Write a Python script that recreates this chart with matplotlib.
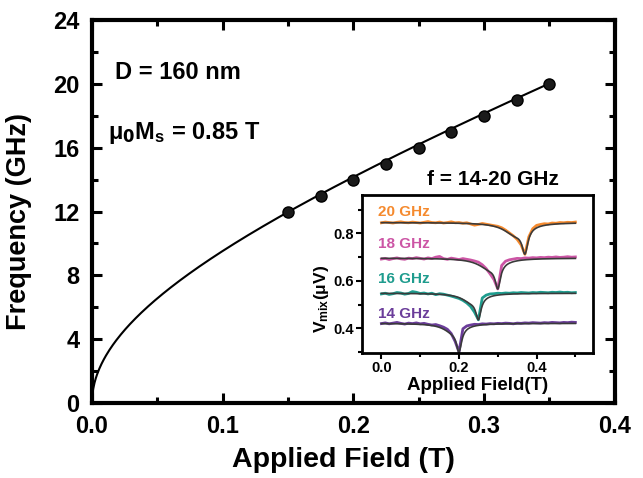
import numpy as np
import matplotlib.pyplot as plt
from matplotlib.ticker import MultipleLocator

plt.rcParams['font.family'] = ['Liberation Sans', 'DejaVu Sans']
plt.rcParams['font.weight'] = 'bold'
plt.rcParams['mathtext.default'] = 'regular'

# resonance frequency vs applied field
field = [0.15, 0.175, 0.2, 0.225, 0.25, 0.275, 0.3, 0.325, 0.35]
freq = [12, 13, 14, 15, 16, 17, 18, 19, 20]
mu0_ms = 0.85      # T
gamma = 30.9       # GHz/T, Kittel fit

# inset: mixing voltage spectra (0 to 0.5 T, 0.01 T steps)
h_inset = np.round(np.arange(0, 0.505, 0.01), 2)
v_20 = [0.845, 0.848, 0.846, 0.844, 0.847, 0.849, 0.846, 0.845, 0.848, 0.846,
        0.844, 0.847, 0.850, 0.846, 0.845, 0.848, 0.844, 0.846, 0.849, 0.845,
        0.846, 0.843, 0.845, 0.840, 0.835, 0.838, 0.842, 0.839, 0.836, 0.833,
        0.830, 0.824, 0.814, 0.802, 0.790, 0.775, 0.752, 0.712, 0.786, 0.820,
        0.834, 0.838, 0.841, 0.840, 0.844, 0.843, 0.846, 0.845, 0.847, 0.846, 0.848]
v_18 = [0.692, 0.695, 0.690, 0.694, 0.697, 0.693, 0.691, 0.696, 0.694, 0.698,
        0.695, 0.692, 0.697, 0.694, 0.700, 0.703, 0.694, 0.691, 0.696, 0.693,
        0.690, 0.694, 0.691, 0.688, 0.684, 0.679, 0.668, 0.652, 0.630, 0.606,
        0.566, 0.665, 0.683, 0.689, 0.692, 0.695, 0.694, 0.697, 0.696, 0.698,
        0.697, 0.699, 0.698, 0.700, 0.699, 0.701, 0.699, 0.700, 0.702, 0.700, 0.701]
v_16 = [0.545, 0.548, 0.543, 0.546, 0.551, 0.549, 0.544, 0.547, 0.555, 0.552,
        0.547, 0.549, 0.545, 0.548, 0.542, 0.546, 0.544, 0.540, 0.536, 0.531,
        0.526, 0.518, 0.507, 0.492, 0.468, 0.436, 0.528, 0.540, 0.545, 0.546,
        0.548, 0.547, 0.549, 0.548, 0.550, 0.549, 0.551, 0.550, 0.549, 0.551,
        0.550, 0.552, 0.551, 0.550, 0.552, 0.551, 0.553, 0.551, 0.552, 0.550, 0.551]
v_14 = [0.420, 0.423, 0.419, 0.422, 0.425, 0.421, 0.418, 0.422, 0.420, 0.423,
        0.419, 0.421, 0.417, 0.414, 0.416, 0.411, 0.405, 0.396, 0.378, 0.345,
        0.300, 0.398, 0.410, 0.414, 0.417, 0.416, 0.419, 0.418, 0.420, 0.419,
        0.421, 0.420, 0.422, 0.421, 0.419, 0.422, 0.421, 0.423, 0.422, 0.424,
        0.423, 0.422, 0.424, 0.423, 0.425, 0.424, 0.423, 0.425, 0.424, 0.426, 0.425]
spectra = [v_14, v_16, v_18, v_20]
labels = ['14 GHz', '16 GHz', '18 GHz', '20 GHz']
colors = ['#6b3d9a', '#1f9c8e', '#cc55a5', '#f58a2e']
label_y = [0.462, 0.608, 0.754, 0.89]

# lorentzian fit parameters: offset, sharp peak, broad shoulder
offset = [0.421, 0.548, 0.696, 0.846]
h_res = [0.20, 0.25, 0.30, 0.37]
depth_sharp = [0.093, 0.086, 0.096, 0.10]
width_sharp = [0.008, 0.008, 0.008, 0.009]
h_broad = [0.185, 0.232, 0.28, 0.345]
depth_broad = [0.035, 0.035, 0.045, 0.05]
width_broad = [0.03, 0.03, 0.035, 0.035]


def lorentz(h, h0, w, a):
    return a * w ** 2 / ((h - h0) ** 2 + w ** 2)


fig = plt.figure(figsize=(6.43, 4.78), dpi=100)
ax = fig.add_axes([0.143, 0.157, 0.813, 0.801])

h_fit = np.concatenate([[0, 1e-5, 1e-4, 5e-4, 1e-3, 2e-3],
                        np.linspace(0.003, 0.35, 400)])
ax.plot(h_fit, gamma * np.sqrt(h_fit * (h_fit + mu0_ms)), color='k', lw=1.5)
ax.plot(field, freq, 'o', ms=8, mfc='#1a1a1a', mec='k', mew=1)

ax.set_xlim(0, 0.4)
ax.set_ylim(0, 24)
ax.xaxis.set_major_locator(MultipleLocator(0.1))
ax.xaxis.set_minor_locator(MultipleLocator(0.05))
ax.yaxis.set_major_locator(MultipleLocator(4))
ax.yaxis.set_minor_locator(MultipleLocator(2))
ax.tick_params(which='both', direction='in', top=True, right=True, width=2.2,
               labelsize=17)
ax.tick_params(axis='x', pad=9)
ax.tick_params(axis='y', pad=9)
ax.tick_params(which='major', length=7)
ax.tick_params(which='minor', length=4)
for s in ax.spines.values():
    s.set_linewidth(3)
ax.set_xlabel('Applied Field (T)', fontsize=20.5, fontweight='bold')
ax.xaxis.set_label_coords(0.482, -0.115)
ax.set_ylabel('Frequency (GHz)', fontsize=19.5, fontweight='bold')
ax.yaxis.set_label_coords(-0.115, 0.475)
ax.text(0.018, 20.7, 'D = 160 nm', fontsize=17, fontweight='bold', va='center')
ax.text(0.012, 16.9, 'μ$_{\\mathsf{0}}$M$_s$ = 0.85 T', fontsize=17,
        fontweight='bold', va='center')

# inset
ins = fig.add_axes([0.563, 0.2615, 0.359, 0.3305])
hh = np.linspace(0, 0.5, 1000)
for i in range(4):
    ins.plot(h_inset, spectra[i], color=colors[i], lw=2)
    fit = (offset[i] - lorentz(hh, h_res[i], width_sharp[i], depth_sharp[i])
           - lorentz(hh, h_broad[i], width_broad[i], depth_broad[i]))
    ins.plot(hh, fit, color='#3a3a3a', lw=1.2)
    ins.text(-0.008, label_y[i], labels[i], color=colors[i], fontsize=11,
             fontweight='bold', va='center')

ins.set_xlim(-0.05, 0.545)
ins.set_ylim(0.296, 0.962)
ins.xaxis.set_major_locator(MultipleLocator(0.2))
ins.xaxis.set_minor_locator(MultipleLocator(0.1))
ins.yaxis.set_major_locator(MultipleLocator(0.2))
ins.yaxis.set_minor_locator(MultipleLocator(0.1))
ins.tick_params(which='both', direction='out', width=1.5, labelsize=10.5, pad=2)
ins.tick_params(which='major', length=4)
ins.tick_params(which='minor', length=3)
for s in ins.spines.values():
    s.set_linewidth(2)
ins.set_xlabel('Applied Field(T)', fontsize=13.5, fontweight='bold', labelpad=1)
ins.set_ylabel('V$_{mix}$(μV)', fontsize=12.5, fontweight='bold')
ins.yaxis.set_label_coords(-0.135, 0.34)
ins.text(0.567, 1.1, 'f = 14-20 GHz', transform=ins.transAxes, ha='center',
         va='center', fontsize=15, fontweight='bold')

fig.savefig('out.png', dpi=100)
